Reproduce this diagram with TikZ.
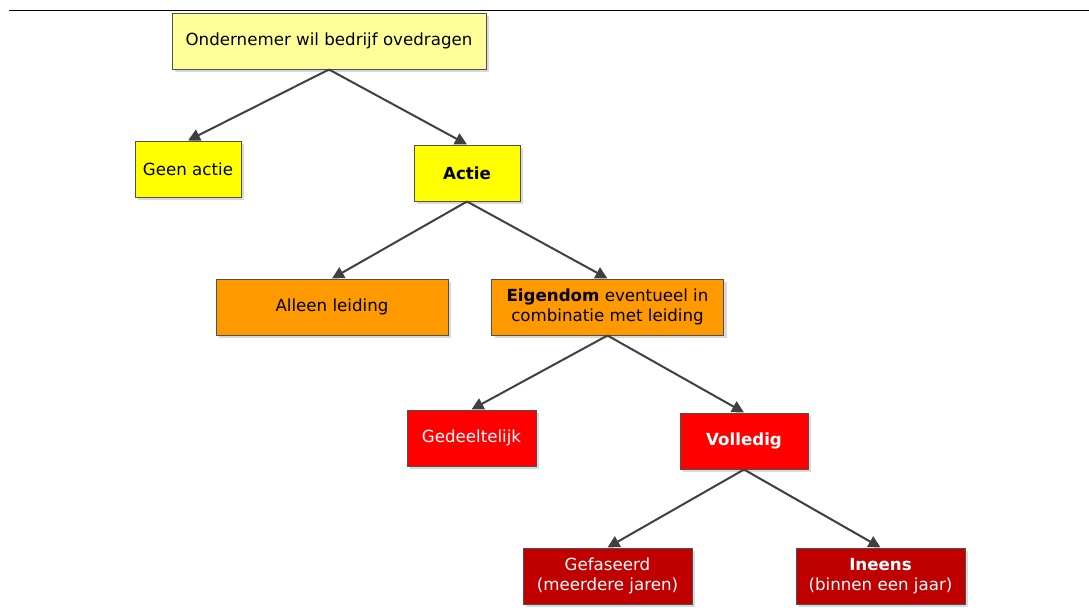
\documentclass[tikz,border=0pt]{standalone}
\usepackage{fontspec}
\setmainfont{DejaVu Sans}
\usetikzlibrary{arrows.meta,shadows}
\definecolor{lightyel}{HTML}{FFFF99}
\definecolor{yel}{HTML}{FFFF00}
\definecolor{orng}{HTML}{FF9900}
\definecolor{rd}{HTML}{FF0000}
\definecolor{drd}{HTML}{C00000}
\definecolor{edge}{HTML}{505050}
\definecolor{arr}{HTML}{404040}
\tikzset{
  box/.style={draw=edge, line width=0.75pt, inner sep=0pt, align=center,
    minimum height=42pt, font=\fontsize{12.5}{15.5}\selectfont,
    drop shadow={shadow xshift=2.25pt, shadow yshift=-2.25pt, fill=black!15, opacity=1}},
  conn/.style={draw=arr, line width=1.5pt, -{Triangle[length=9pt,width=9pt]}}
}
\begin{document}
\begin{tikzpicture}[x=0.75pt,y=-0.75pt]
\useasboundingbox (0,0) rectangle (1089,607);
\draw[line width=0.75pt] (9,10) -- (1089,10);
\node[box, fill=lightyel, minimum width=235.5pt] (top) at (329,41) {Ondernemer wil bedrijf ovedragen};
\node[box, fill=yel, minimum width=79.5pt] (geen) at (188,169) {Geen actie};
\node[box, fill=yel, minimum width=79.5pt] (actie) at (467,173) {\textbf{Actie}};
\node[box, fill=orng, minimum width=174pt] (alleen) at (332,307) {Alleen leiding};
\node[box, fill=orng, minimum width=174pt] (eigen) at (607.5,307) {\textbf{Eigendom} eventueel in\\combinatie met leiding};
\node[box, fill=rd, text=white, minimum width=96.75pt] (gedeel) at (471.5,438) {Gedeeltelijk};
\node[box, fill=rd, text=white, minimum width=96pt] (vol) at (744,441) {\textbf{Volledig}};
\node[box, fill=drd, text=white, minimum width=126.75pt] (gefas) at (607.5,576) {Gefaseerd\\(meerdere jaren)};
\node[box, fill=drd, text=white, minimum width=126.75pt] (ineens) at (880.5,576) {\textbf{Ineens}\\(binnen een jaar)};
\draw[conn] (top.south) -- (geen.north);
\draw[conn] (top.south) -- (actie.north);
\draw[conn] (actie.south) -- (alleen.north);
\draw[conn] (actie.south) -- (eigen.north);
\draw[conn] (eigen.south) -- (gedeel.north);
\draw[conn] (eigen.south) -- (vol.north);
\draw[conn] (vol.south) -- (gefas.north);
\draw[conn] (vol.south) -- (ineens.north);
\end{tikzpicture}
\end{document}
